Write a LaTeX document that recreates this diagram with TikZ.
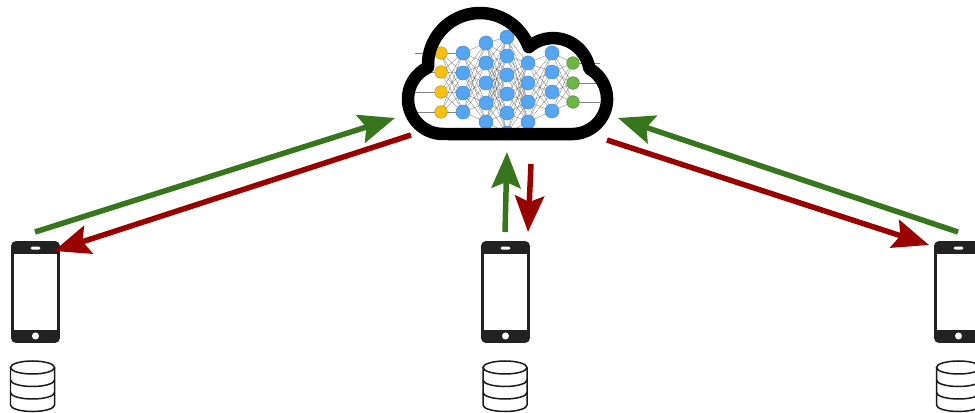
\documentclass[tikz,border=0pt]{standalone}
\usepackage{tikz}
\usetikzlibrary{arrows.meta}
\definecolor{upgreen}{RGB}{56,118,29}
\definecolor{downred}{RGB}{153,0,0}
\definecolor{phonegray}{RGB}{34,34,34}
\definecolor{inyellow}{RGB}{245,193,20}
\definecolor{hidblue}{RGB}{85,165,242}
\definecolor{outgreen}{RGB}{110,180,70}
\tikzset{up/.style={upgreen, line width=0.11cm,
  -{Stealth[length=0.72cm, width=0.58cm, inset=0.12cm]}}}
\tikzset{down/.style={downred, line width=0.11cm,
  -{Stealth[length=0.72cm, width=0.58cm, inset=0.12cm]}}}
\tikzset{wire/.style={black!70, line width=0.2pt, opacity=0.7}}
\tikzset{neuronI/.style={fill=inyellow, draw=inyellow!80!black, line width=0.3pt}}
\tikzset{neuronH/.style={fill=hidblue, draw=hidblue!85!black, line width=0.3pt}}
\tikzset{neuronO/.style={fill=outgreen, draw=outgreen!80!black, line width=0.3pt}}
\tikzset{phone/.style={rectangle, rounded corners=0.1cm, fill=phonegray,
  minimum width=0.98cm, minimum height=2.04cm, inner sep=0pt}}
\tikzset{screen/.style={rectangle, fill=white, minimum width=0.88cm,
  minimum height=1.54cm, inner sep=0pt}}
\tikzset{dbline/.style={black!90, line width=0.03cm}}
\tikzset{db/.pic={
  \draw[dbline] (0,0) ellipse [x radius=22, y radius=6.5];
  \draw[dbline] (-22,0) -- (-22,-37.5)
    arc [start angle=180, end angle=360, x radius=22, y radius=6.5] -- (22,0);
  \draw[dbline] (-22,-12.5) arc [start angle=180, end angle=360, x radius=22, y radius=6.5];
  \draw[dbline] (-22,-25) arc [start angle=180, end angle=360, x radius=22, y radius=6.5];
}}

\begin{document}
\begin{tikzpicture}[x=0.02cm, y=0.02cm]
\useasboundingbox (0,0) rectangle (975,413);

% cloud, white inside
\fill[white] (443,279) arc [start angle=270, end angle=115.3, radius=35]
  arc [start angle=182.6, end angle=20.1, radius=52]
  arc [start angle=130.9, end angle=9.9, radius=37]
  arc [start angle=60.1, end angle=-90, radius=35] -- cycle;

% network layers
\foreach \y [count=\i] in {360,341,321,301} \coordinate (in\i) at (441,\y);
\foreach \y [count=\i] in {360,340,320,301} \coordinate (ha\i) at (463,\y);
\foreach \y [count=\i] in {370,350,330,310,291} \coordinate (hb\i) at (486,\y);
\foreach \y [count=\i] in {376,357,338,319,300,280} \coordinate (hc\i) at (507,\y);
\foreach \y [count=\i] in {350,330,311,291} \coordinate (hd\i) at (528,\y);
\foreach \y [count=\i] in {360,341,321,302} \coordinate (he\i) at (552,\y);
\foreach \y [count=\i] in {350,330,311} \coordinate (out\i) at (573,\y);

\foreach \i in {1,...,4} \draw[wire] (in\i) -- ++(-26,0);
\foreach \i in {1,...,3} \draw[wire] (out\i) -- ++(27,0);
\foreach \i in {1,...,4} \foreach \j in {1,...,4} \draw[wire] (in\i) -- (ha\j);
\foreach \i in {1,...,4} \foreach \j in {1,...,5} \draw[wire] (ha\i) -- (hb\j);
\foreach \i in {1,...,5} \foreach \j in {1,...,6} \draw[wire] (hb\i) -- (hc\j);
\foreach \i in {1,...,6} \foreach \j in {1,...,4} \draw[wire] (hc\i) -- (hd\j);
\foreach \i in {1,...,4} \foreach \j in {1,...,4} \draw[wire] (hd\i) -- (he\j);
\foreach \i in {1,...,4} \foreach \j in {1,...,3} \draw[wire] (he\i) -- (out\j);

\foreach \i in {1,...,4} \filldraw[neuronI] (in\i) circle (6.3);
\foreach \i in {1,...,4} \filldraw[neuronH] (ha\i) circle (7);
\foreach \i in {1,...,5} \filldraw[neuronH] (hb\i) circle (7);
\foreach \i in {1,...,6} \filldraw[neuronH] (hc\i) circle (7);
\foreach \i in {1,...,4} \filldraw[neuronH] (hd\i) circle (7);
\foreach \i in {1,...,4} \filldraw[neuronH] (he\i) circle (7);
\foreach \i in {1,...,3} \filldraw[neuronO] (out\i) circle (6.3);

% cloud outline over the network
\draw[line width=0.25cm, line join=round] (443,279)
  arc [start angle=270, end angle=115.3, radius=35]
  arc [start angle=182.6, end angle=20.1, radius=52]
  arc [start angle=130.9, end angle=9.9, radius=37]
  arc [start angle=60.1, end angle=-90, radius=35] -- cycle;

% phones
\node[phone] (phoneL) at (35.5,121) {};
\node[phone] (phoneM) at (505.5,121) {};
\node[phone] (phoneR) at (958.5,121) {};
\node[screen] at (phoneL) {};
\node[screen] at (phoneM) {};
\node[screen] at (phoneR) {};
\fill[white, rounded corners=0.03cm] ([xshift=-0.1cm, yshift=0.85cm]phoneL.center) rectangle ++(0.2cm,0.06cm);
\fill[white, rounded corners=0.03cm] ([xshift=-0.1cm, yshift=0.85cm]phoneM.center) rectangle ++(0.2cm,0.06cm);
\fill[white, rounded corners=0.03cm] ([xshift=-0.1cm, yshift=0.85cm]phoneR.center) rectangle ++(0.2cm,0.06cm);
\fill[white] ([yshift=-0.88cm]phoneL.center) circle (3.5);
\fill[white] ([yshift=-0.88cm]phoneM.center) circle (3.5);
\fill[white] ([yshift=-0.88cm]phoneR.center) circle (3.5);

% local data
\pic (dbL) at (32.5,45.5) {db};
\pic (dbM) at (505,45.5) {db};
\pic (dbR) at (958.5,45.5) {db};

% arrow ends
\coordinate (sendL) at (35,181);
\coordinate (sendM) at (505,181);
\coordinate (sendR) at (958,181);
\coordinate (getL) at (54,162);
\coordinate (getM) at (528,181);
\coordinate (getR) at (929,168);
\coordinate (cloudInL) at (395,295);
\coordinate (cloudInM) at (507,261);
\coordinate (cloudInR) at (618,295);
\coordinate (cloudOutL) at (411,278);
\coordinate (cloudOutM) at (531,249);
\coordinate (cloudOutR) at (607,273);

\draw[up] (sendL) -- (cloudInL);
\draw[down] (cloudOutL) -- (getL);
\draw[up] (sendM) -- (cloudInM);
\draw[down] (cloudOutM) -- (getM);
\draw[up] (sendR) -- (cloudInR);
\draw[down] (cloudOutR) -- (getR);
\end{tikzpicture}
\end{document}
